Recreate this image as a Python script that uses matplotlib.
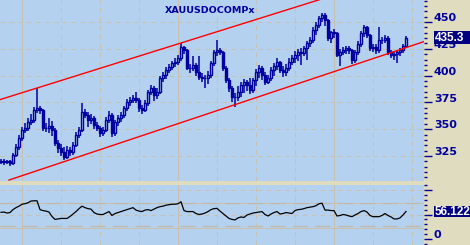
import matplotlib
matplotlib.use('Agg')
import matplotlib.pyplot as plt
import matplotlib.transforms as mtransforms
from matplotlib.patches import Rectangle
from matplotlib.ticker import MultipleLocator

title = 'XAUUSDOCOMPx'

opens = [
    319.5, 320.3, 319.4, 320.3, 318.5, 325.9, 333.4, 341.8, 349.3, 351.1,
    356.7, 358.6, 367.9, 369.8, 367.9, 351.1, 351.1, 353.0, 349.3, 337.1,
    332.5, 328.7, 324.1, 330.6, 328.7, 335.3, 344.6, 349.3, 366.0, 363.2,
    358.6, 360.4, 353.9, 351.1, 346.5, 349.3, 358.6, 363.2, 346.5, 356.7,
    360.4, 363.2, 369.8, 375.4, 377.2, 379.1, 377.2, 369.8, 367.9, 374.5,
    384.7, 388.4, 381.9, 384.7, 397.8, 400.6, 405.2, 408.0, 411.8, 412.7,
    416.4, 426.7, 423.9, 407.1, 407.1, 409.9, 403.4, 398.7, 397.8, 397.8,
    400.6, 411.8, 422.0, 423.9, 422.0, 407.1, 395.9, 388.4, 380.0, 380.0,
    384.7, 391.2, 394.0, 391.2, 386.6, 395.9, 403.4, 407.1, 400.6, 394.0,
    397.8, 405.2, 409.0, 412.7, 405.2, 403.4, 407.1, 412.7, 416.4, 419.2,
    422.0, 421.1, 425.7, 430.4, 433.2, 442.5, 447.2, 453.7, 456.5, 451.9,
    435.1, 440.7, 439.7, 419.2, 422.0, 423.9, 425.7, 423.9, 414.6, 422.0,
    429.5, 439.7, 445.3, 437.9, 425.7, 426.7, 423.9, 433.2, 433.2, 435.1,
    422.0, 419.2, 420.1, 422.0, 423.9, 427.6,
]
highs = [
    322.5, 322.0, 321.5, 321.0, 328.0, 336.0, 345.0, 352.0, 356.0, 360.0,
    364.0, 371.0, 388.4, 372.0, 369.0, 356.0, 360.0, 358.0, 351.0, 340.0,
    336.0, 333.0, 334.0, 333.0, 338.0, 347.0, 352.0, 374.4, 369.0, 366.0,
    364.0, 362.0, 357.0, 353.0, 352.0, 361.0, 367.0, 365.0, 359.0, 363.0,
    366.0, 372.0, 378.0, 380.0, 382.0, 384.7, 379.0, 373.0, 377.0, 387.0,
    391.0, 390.0, 388.0, 400.0, 403.0, 408.0, 411.0, 414.0, 416.0, 419.0,
    430.4, 428.0, 425.0, 411.0, 418.0, 412.0, 418.0, 402.0, 401.0, 404.0,
    414.0, 424.0, 433.2, 426.0, 423.0, 409.0, 398.0, 390.0, 384.0, 390.0,
    394.0, 397.0, 396.0, 398.0, 398.0, 406.0, 410.0, 409.0, 403.0, 401.0,
    408.0, 412.0, 416.0, 414.0, 409.0, 411.0, 416.0, 419.0, 423.0, 425.0,
    426.0, 428.0, 432.0, 436.0, 445.0, 450.0, 456.0, 458.4, 458.0, 453.0,
    442.0, 443.0, 441.0, 425.0, 427.0, 428.0, 428.0, 425.0, 424.0, 432.0,
    442.0, 447.0, 446.5, 439.0, 429.0, 429.0, 445.0, 436.0, 438.0, 437.0,
    424.0, 423.0, 424.0, 426.0, 429.0, 436.5,
]
lows = [
    317.5, 317.0, 317.5, 316.0, 317.0, 324.0, 331.0, 339.0, 346.0, 348.0,
    354.0, 356.0, 365.0, 364.0, 348.0, 347.0, 346.0, 344.0, 334.0, 328.0,
    325.0, 321.3, 322.0, 325.0, 326.0, 333.0, 342.0, 347.0, 360.0, 352.0,
    355.0, 350.0, 348.0, 343.0, 343.5, 347.0, 356.0, 343.0, 344.0, 353.0,
    357.0, 360.0, 367.0, 372.0, 374.0, 374.0, 366.0, 364.0, 366.0, 372.0,
    382.0, 376.0, 378.0, 383.0, 394.0, 397.0, 402.0, 405.0, 408.0, 410.0,
    414.0, 420.0, 405.0, 402.0, 404.0, 400.0, 396.0, 394.0, 388.0, 392.0,
    398.0, 409.0, 418.0, 419.0, 404.0, 393.0, 385.0, 375.0, 370.7, 376.0,
    380.0, 384.0, 386.0, 383.0, 384.0, 390.0, 398.0, 396.0, 391.0, 392.0,
    395.0, 400.0, 405.0, 402.0, 399.0, 400.0, 404.0, 410.0, 412.0, 414.0,
    410.0, 418.0, 415.0, 427.0, 430.0, 438.0, 444.0, 450.0, 446.0, 432.0,
    430.0, 435.0, 417.0, 409.0, 419.0, 420.0, 420.0, 411.0, 412.0, 419.0,
    427.0, 436.0, 435.0, 423.0, 422.0, 420.0, 421.0, 429.0, 430.0, 419.0,
    416.4, 415.0, 412.0, 418.0, 421.0, 426.0,
]
closes = [
    320.3, 319.4, 320.3, 318.5, 325.9, 333.4, 341.8, 349.3, 351.1, 356.7,
    358.6, 367.9, 369.8, 367.9, 351.1, 351.1, 353.0, 349.3, 337.1, 332.5,
    328.7, 324.1, 330.6, 328.7, 335.3, 344.6, 349.3, 366.0, 363.2, 358.6,
    360.4, 353.9, 351.1, 346.5, 349.3, 358.6, 363.2, 346.5, 356.7, 360.4,
    363.2, 369.8, 375.4, 377.2, 379.1, 377.2, 369.8, 367.9, 374.5, 384.7,
    388.4, 381.9, 384.7, 397.8, 400.6, 405.2, 408.0, 411.8, 412.7, 416.4,
    426.7, 423.9, 407.1, 407.1, 409.9, 403.4, 398.7, 397.8, 397.8, 400.6,
    411.8, 422.0, 423.9, 422.0, 407.1, 395.9, 388.4, 380.0, 380.0, 384.7,
    391.2, 394.0, 391.2, 386.6, 395.9, 403.4, 407.1, 400.6, 394.0, 397.8,
    405.2, 409.0, 412.7, 405.2, 403.4, 407.1, 412.7, 416.4, 419.2, 422.0,
    421.1, 425.7, 430.4, 433.2, 442.5, 447.2, 453.7, 456.5, 451.9, 435.1,
    440.7, 439.7, 419.2, 422.0, 423.9, 425.7, 423.9, 414.6, 422.0, 429.5,
    439.7, 445.3, 437.9, 425.7, 426.7, 423.9, 433.2, 433.2, 435.1, 422.0,
    419.2, 420.1, 422.0, 423.9, 427.6, 435.3,
]
rsi = [
    54.5, 55, 53, 54, 60, 64, 67, 71, 72, 74,
    77.5, 78, 78, 60, 58, 57, 55, 46, 40, 41,
    42, 42, 42, 46, 51, 56, 62, 67, 64, 62,
    61, 54, 51, 50, 50, 53, 56, 48, 52, 54,
    56, 58, 60, 62, 64, 59, 57, 56, 59, 60,
    58, 61, 64, 66, 67, 69, 70, 71, 71, 72,
    76, 58, 56, 56, 56, 52, 50, 51, 53, 56,
    60, 62, 62.5, 57, 52, 47, 42, 40, 39, 43,
    45, 44, 49, 51, 53, 54, 55, 56, 50, 47,
    51, 54, 56, 51, 52, 54, 53, 52, 58, 60,
    60.5, 62, 64, 65, 66, 68, 72, 73, 59, 59,
    58, 58, 47, 48, 50, 49, 47, 45.6, 49, 52,
    56, 58, 55, 48, 45.6, 45.6, 45.6, 48, 52, 48,
    45, 41, 41, 43, 49, 56.122,
]

price_ticks = [325, 350, 375, 400, 425, 450]
rsi_ticks = [0, 50, 100]
rsi_labels = {0: '0'}

# trend channel (bar index, price)
upper_channel = ([-0.33, 141.0], [377.6, 501.3])
lower_channel = ([2.67, 141.0], [302.6, 431.7])

navy = '#0000A0'
bg = '#B4D2F0'
beige = '#E0DCC0'
grid_c = '#C8C0B0'

fig = plt.figure(figsize=(4.7, 2.45), dpi=100, facecolor=beige)
ax = fig.add_axes([0, 64 / 245, 424 / 470, 181 / 245], facecolor=bg)
ax2 = fig.add_axes([0, 0, 424 / 470, 60 / 245], facecolor=bg)

idx = list(range(len(closes)))
xmax = 141
for a in (ax, ax2):
    a.set_xlim(-1 / 3, xmax)
    for s in a.spines.values():
        s.set_visible(False)
    a.set_xticks(range(7, xmax, 13))
    a.tick_params(axis='x', length=0, labelbottom=False)
    a.grid(axis='x', color=grid_c, lw=0.8, ls=(0, (4, 4)))
    for k in range(7, xmax, 52):
        a.axvline(k, color=grid_c, lw=0.8, zorder=0.5)
    a.yaxis.tick_right()
    a.tick_params(axis='y', which='both', colors=navy, width=1,
                  labelright=False, labelleft=False)
    a.tick_params(axis='y', which='major', length=6)
    a.tick_params(axis='y', which='minor', length=2.5)

# price panel
ax.set_ylim(301.7, 470.5)
ax.set_yticks(price_ticks)
ax.yaxis.set_minor_locator(MultipleLocator(5))
ax.grid(axis='y', color=grid_c, lw=0.8, ls=(0, (4, 4)))
ax.set_axisbelow(True)

ax.vlines(idx, lows, highs, color=navy, lw=1.1, zorder=2)
bottoms = [min(o, c) for o, c in zip(opens, closes)]
heights = [max(abs(c - o), 0.4) for o, c in zip(opens, closes)]
faces = [bg if c >= o else navy for o, c in zip(opens, closes)]
ax.bar(idx, heights, bottom=bottoms, width=0.8, color=faces,
       edgecolor=navy, lw=1.0, zorder=3)

ax.plot(*upper_channel, color='red', lw=1.0, zorder=4)
ax.plot(*lower_channel, color='red', lw=1.0, zorder=4)

ax.text(210 / 424, 1 - 10 / 181, title, transform=ax.transAxes,
        ha='center', va='center', color=navy, fontsize=6.8, fontweight='bold')

blend = mtransforms.blended_transform_factory(ax.transAxes, ax.transData)
for v in price_ticks:
    ax.text(434 / 424, v + 0.8, str(v), transform=blend, ha='left',
            va='baseline', color=navy, fontsize=8, fontweight='bold',
            clip_on=False)
last = closes[-1]
ax.add_patch(Rectangle((434 / 424, last - 6.2), 0.1, 12.4, transform=blend,
                       facecolor='#000080', edgecolor='none', clip_on=False,
                       zorder=10))
ax.text(435 / 424, last - 0.3, f'{last:.1f}', transform=blend, ha='left',
        va='center', color='white', fontsize=8.5, fontweight='bold',
        family='Liberation Sans', clip_on=False, zorder=11)

# oscillator panel
ax2.set_ylim(-12.2, 110.2)
ax2.set_yticks(rsi_ticks)
ax2.yaxis.set_minor_locator(MultipleLocator(10))
for v in (100, 50):
    ax2.axhline(v, color=grid_c, lw=0.8, ls=(0, (4, 4)), zorder=0.5)
for v in (72.5, 21.6):
    ax2.axhline(v, color=grid_c, lw=0.8, zorder=0.5)
for v in (72.5, 27.5):
    ax2.axhline(v, color='#C0B8A8', lw=0.9, ls=(0, (12, 6)), zorder=0.6)
ax2.plot(idx, rsi, color='black', lw=0.9, zorder=3)

blend2 = mtransforms.blended_transform_factory(ax2.transAxes, ax2.transData)
for v, lab in rsi_labels.items():
    ax2.text(434 / 424, v + 1.5, lab, transform=blend2, ha='left',
             va='baseline', color=navy, fontsize=8, fontweight='bold',
             clip_on=False)
lr = rsi[-1]
ax2.add_patch(Rectangle((434 / 424, lr - 11.5), 0.1, 23, transform=blend2,
                        facecolor='#000080', edgecolor='none', clip_on=False,
                        zorder=10))
ax2.text(435 / 424, lr - 2, f'{lr:.4f}', transform=blend2, ha='left',
         va='center', color='white', fontsize=8.5, fontweight='bold',
         family='Liberation Sans', clip_on=False, zorder=11)

fig.savefig('out.png', dpi=100, facecolor=beige)
